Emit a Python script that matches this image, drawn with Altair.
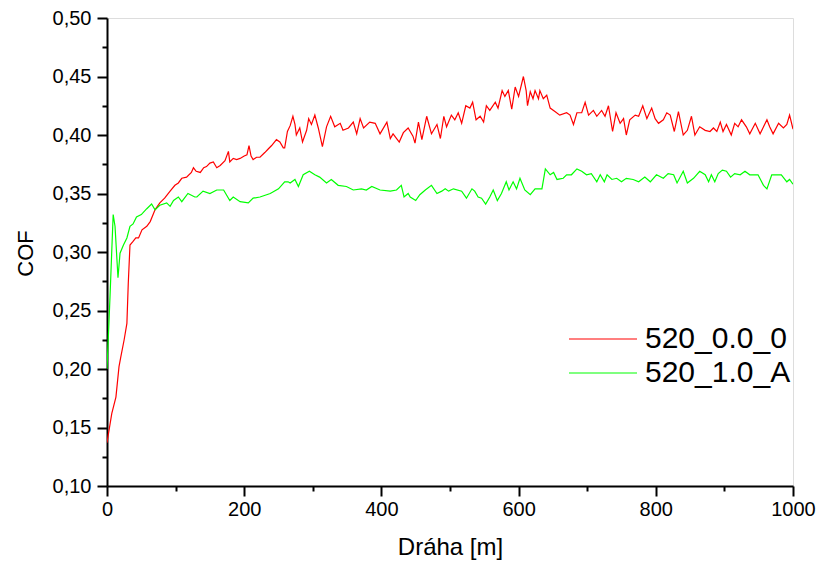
import altair as alt
import pandas as pd

# ---- data ----
red_name = "520_0.0_0"
green_name = "520_1.0_A"

red_x = [0, 7, 13, 17.5, 20, 25, 29, 31, 33.5, 38, 42, 46, 51, 58, 63, 70, 77, 84, 92, 99,
         104, 109, 116, 123, 126, 130, 136, 141, 145, 150, 155, 160, 165, 172, 177, 179, 184, 189, 194, 200,
         204, 207, 210, 213, 218, 223, 230, 235, 240, 247, 252, 257, 259, 263, 267, 271, 274, 276, 281, 285,
         291, 294, 298, 303, 308, 314, 320, 326, 332, 340, 344, 352, 359, 364, 369, 374, 383, 391, 398, 408,
         413, 417, 426, 432, 439, 446, 449, 454, 459, 466, 473, 481, 486, 491, 495, 502, 507, 512, 517, 523,
         529, 533, 538, 544, 549, 553, 558, 566, 570, 576, 580, 585, 590, 595, 600, 607, 611, 613, 617, 621,
         624, 629, 631, 636, 641, 646, 653, 660, 670, 675, 680, 685, 692, 697, 702, 709, 714, 721, 726, 731,
         737, 742, 748, 753, 757, 762, 770, 775, 781, 787, 794, 799, 804, 811, 816, 821, 827, 833, 840, 846,
         852, 857, 864, 872, 879, 884, 889, 894, 898, 903, 910, 915, 920, 925, 932, 937, 945, 952, 962, 966,
         971, 979, 986, 991, 995, 1000]
red_y = [0.137, 0.162, 0.176, 0.202, 0.210, 0.225, 0.239, 0.273, 0.306, 0.309, 0.312, 0.312, 0.319, 0.322, 0.326, 0.336, 0.342, 0.346, 0.352, 0.357,
         0.359, 0.363, 0.364, 0.368, 0.372, 0.369, 0.368, 0.372, 0.373, 0.376, 0.377, 0.372, 0.374, 0.378, 0.386, 0.377, 0.380, 0.379, 0.380, 0.382,
         0.383, 0.391, 0.382, 0.379, 0.381, 0.381, 0.385, 0.388, 0.391, 0.396, 0.394, 0.389, 0.389, 0.403, 0.408, 0.416, 0.409, 0.400, 0.406, 0.394,
         0.404, 0.414, 0.409, 0.417, 0.406, 0.390, 0.407, 0.416, 0.407, 0.410, 0.404, 0.406, 0.411, 0.401, 0.414, 0.406, 0.411, 0.410, 0.401, 0.411,
         0.397, 0.401, 0.394, 0.402, 0.406, 0.399, 0.393, 0.411, 0.396, 0.416, 0.401, 0.409, 0.397, 0.416, 0.407, 0.417, 0.413, 0.419, 0.410, 0.425,
         0.423, 0.428, 0.413, 0.416, 0.411, 0.425, 0.421, 0.428, 0.423, 0.438, 0.433, 0.438, 0.422, 0.441, 0.433, 0.450, 0.438, 0.425, 0.437, 0.431,
         0.438, 0.431, 0.438, 0.431, 0.434, 0.423, 0.420, 0.417, 0.419, 0.417, 0.409, 0.419, 0.419, 0.428, 0.417, 0.421, 0.416, 0.421, 0.416, 0.425,
         0.403, 0.419, 0.410, 0.414, 0.400, 0.413, 0.417, 0.416, 0.425, 0.414, 0.423, 0.414, 0.410, 0.413, 0.419, 0.417, 0.403, 0.420, 0.400, 0.404,
         0.416, 0.400, 0.407, 0.404, 0.403, 0.406, 0.403, 0.411, 0.403, 0.409, 0.400, 0.410, 0.407, 0.413, 0.407, 0.401, 0.410, 0.401, 0.413, 0.407,
         0.401, 0.410, 0.406, 0.409, 0.417, 0.405]

green_x = [0, 4.4, 9, 11.7, 16, 19, 24, 29, 33.5, 38, 43, 50, 58, 65, 70, 77, 87, 92, 97, 104,
           109, 118, 128, 131, 140, 150, 160, 170, 179, 184, 194, 206, 213, 223, 238, 250, 259, 264, 267, 274,
           279, 286, 295, 303, 310, 320, 327, 337, 349, 359, 371, 378, 386, 398, 413, 422, 429, 433, 439, 442,
           450, 456, 464, 473, 481, 488, 493, 498, 505, 517, 524, 532, 536, 541, 546, 552, 558, 563, 569, 575,
           582, 586, 592, 597, 602, 609, 617, 624, 634, 639, 646, 651, 656, 665, 670, 677, 685, 692, 699, 706,
           714, 719, 725, 729, 736, 743, 750, 757, 767, 775, 784, 792, 801, 811, 818, 826, 831, 840, 846, 855,
           864, 872, 877, 881, 886, 891, 897, 903, 909, 915, 923, 930, 937, 949, 957, 962, 969, 976, 983, 991,
           995, 1000]
green_y = [0.200, 0.262, 0.332, 0.322, 0.278, 0.299, 0.306, 0.312, 0.322, 0.324, 0.330, 0.332, 0.337, 0.341, 0.336, 0.340, 0.342, 0.339, 0.344, 0.347,
           0.343, 0.350, 0.347, 0.347, 0.352, 0.350, 0.353, 0.353, 0.344, 0.347, 0.343, 0.342, 0.346, 0.347, 0.350, 0.354, 0.360, 0.360, 0.359, 0.362,
           0.356, 0.366, 0.369, 0.366, 0.364, 0.359, 0.362, 0.357, 0.356, 0.353, 0.354, 0.353, 0.356, 0.353, 0.352, 0.353, 0.357, 0.347, 0.350, 0.347,
           0.344, 0.349, 0.353, 0.357, 0.350, 0.352, 0.354, 0.352, 0.354, 0.352, 0.346, 0.354, 0.352, 0.347, 0.346, 0.341, 0.347, 0.353, 0.344, 0.350,
           0.360, 0.353, 0.360, 0.354, 0.363, 0.353, 0.349, 0.354, 0.354, 0.371, 0.366, 0.368, 0.362, 0.363, 0.366, 0.366, 0.371, 0.369, 0.366, 0.367,
           0.360, 0.366, 0.360, 0.366, 0.362, 0.363, 0.360, 0.363, 0.362, 0.360, 0.364, 0.360, 0.366, 0.363, 0.367, 0.366, 0.359, 0.369, 0.359, 0.363,
           0.369, 0.366, 0.360, 0.366, 0.360, 0.367, 0.370, 0.369, 0.364, 0.367, 0.366, 0.369, 0.366, 0.366, 0.357, 0.354, 0.366, 0.366, 0.366, 0.360,
           0.362, 0.358]

x_ticks = [0, 100, 200, 300, 400, 500, 600, 700, 800, 900, 1000]
y_ticks = [0.10, 0.125, 0.15, 0.175, 0.20, 0.225, 0.25, 0.275, 0.30, 0.325, 0.35,
           0.375, 0.40, 0.425, 0.45, 0.475, 0.50]

df = pd.concat([
    pd.DataFrame({"d": red_x, "cof": red_y, "series": red_name, "o": range(len(red_x))}),
    pd.DataFrame({"d": green_x, "cof": green_y, "series": green_name, "o": range(len(green_x))}),
])

FONT = "Liberation Sans"

x_axis = alt.Axis(
    values=x_ticks,
    labelExpr="datum.value % 200 == 0 ? format(datum.value, 'd') : ''",
    tickSize={"condition": {"test": "datum.value % 200 == 0", "value": 10}, "value": 5},
    grid=False, domainColor="black", domainWidth=2, tickColor="black", tickWidth=2,
    labelFont=FONT, labelFontSize=20, labelColor="black", labelPadding=3,
    labelOverlap=False, labelFlush=False,
    title="Dráha [m]", titleFont=FONT, titleFontSize=24, titleFontWeight="normal",
    titleColor="black", titleY=68, titleBaseline="alphabetic",
)
y_axis = alt.Axis(
    values=y_ticks,
    labelExpr="abs(datum.value*20 - round(datum.value*20)) < 0.01 ? replace(format(datum.value, '.2f'), '.', ',') : ''",
    tickSize={"condition": {"test": "abs(datum.value*20 - round(datum.value*20)) < 0.01", "value": 10}, "value": 5},
    grid=False, domainColor="black", domainWidth=2, tickColor="black", tickWidth=2,
    labelFont=FONT, labelFontSize=20, labelColor="black", labelPadding=6,
    labelOverlap=False, labelFlush=False,
    title="COF", titleFont=FONT, titleFontSize=22, titleFontWeight="normal",
    titleColor="black", titleX=-75, titleY=235, titleBaseline="alphabetic", titleAlign="center", titleAngle=270,
)

chart = alt.Chart(df).mark_line(strokeWidth=1.2, clip=True).encode(
    x=alt.X("d:Q", scale=alt.Scale(domain=[0, 1000], nice=False, zero=False), axis=x_axis),
    y=alt.Y("cof:Q", scale=alt.Scale(domain=[0.10, 0.50], nice=False, zero=False), axis=y_axis),
    color=alt.Color("series:N",
                    scale=alt.Scale(domain=[red_name, green_name], range=["#ff0000", "#00ff00"]),
                    legend=alt.Legend(orient="none", legendX=481, legendY=306, title=None,
                                      symbolType="M-4,0H4", symbolSize=289, symbolStrokeWidth=1.2,
                                      symbolFillColor="transparent",
                                      labelFont=FONT, labelFontSize=30, labelColor="black",
                                      labelOffset=27, rowPadding=4, padding=0)),
    order="o:Q",
).properties(
    width=686, height=468,
    autosize=alt.AutoSizeParams(type="none"),
    padding={"left": 107, "top": 18, "right": 25, "bottom": 76},
).configure_view(stroke=None).configure(background="white")

chart.save("out.html", embed_options={"renderer": "svg", "actions": False})
